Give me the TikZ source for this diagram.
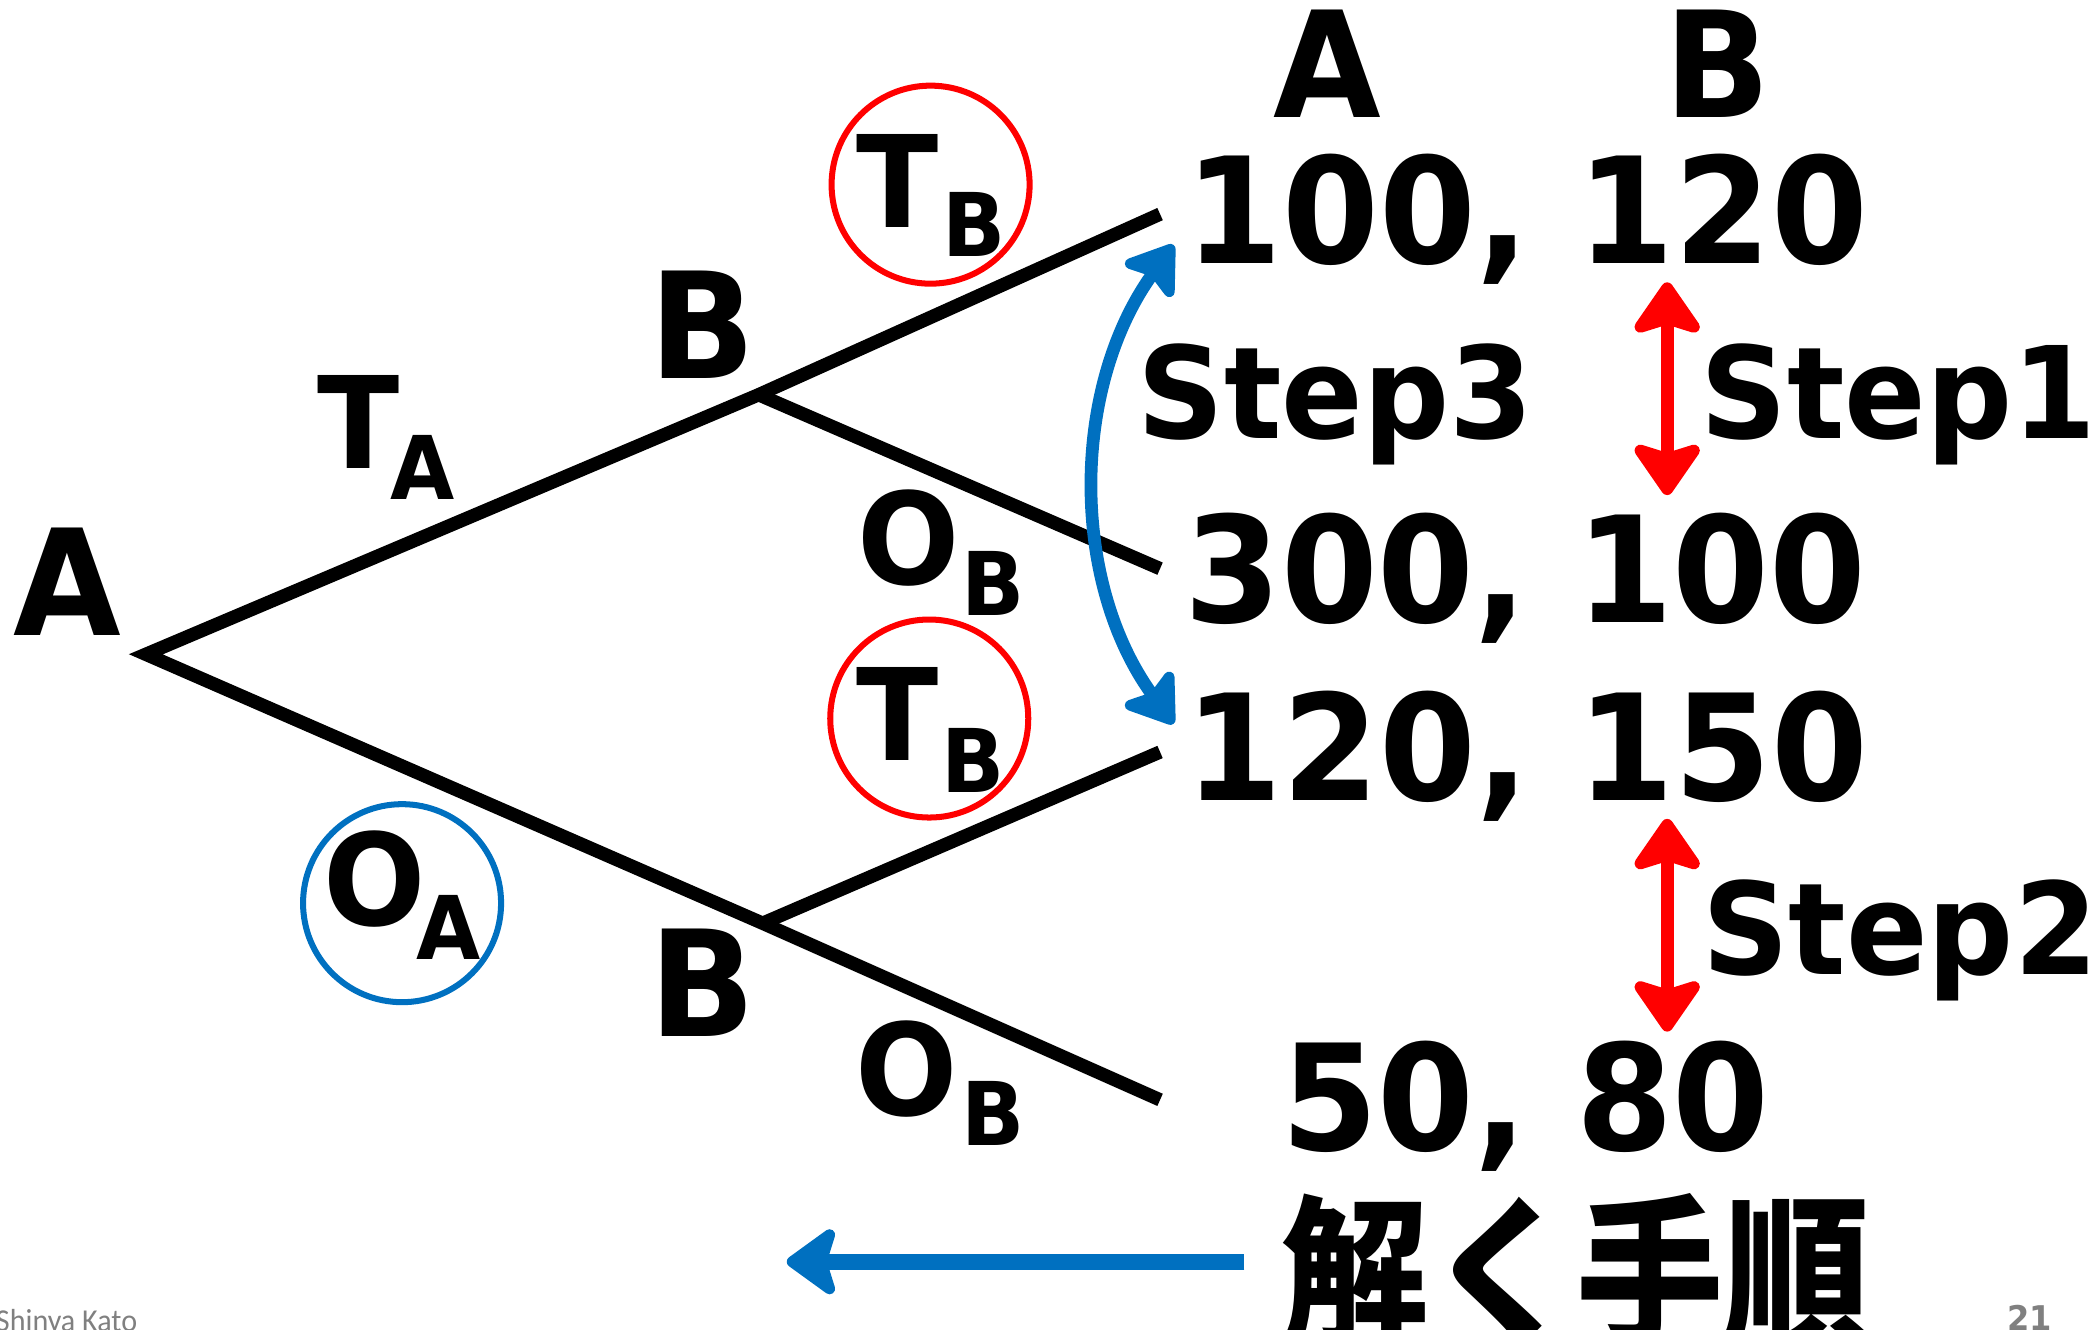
\documentclass[tikz,border=0pt]{standalone}
\usepackage{fontspec}
\setmainfont{DejaVu Sans}
\newfontfamily\cjk{Noto Sans CJK JP}
\newfontfamily\carl{Carlito}
\usetikzlibrary{arrows.meta}
\definecolor{myred}{RGB}{255,0,0}
\definecolor{myblue}{RGB}{0,112,192}
\definecolor{mygray}{RGB}{128,128,128}
\newcommand{\stretchtxt}[1]{\scalebox{1}[1.06]{#1}}
\newcommand{\stretchcjk}[1]{\scalebox{1}[1.1]{#1}}
\begin{document}
\begin{tikzpicture}[x=1pt,y=-1pt,
  every node/.style={inner sep=0pt, outer sep=0pt},
  big/.style={font=\fontsize{104}{104}\selectfont\bfseries, anchor=base},
  mid/.style={font=\fontsize{90}{90}\selectfont\bfseries, anchor=base},
  sublbl/.style={font=\fontsize{62}{62}\selectfont\bfseries, anchor=base},
  branch/.style={line width=10pt, line join=miter},
  ring/.style={circle, draw, line width=4.5pt, minimum size=148pt},
  redtip/.tip={Stealth[length=44pt,width=60pt,inset=9pt,round]},
  bluetip/.tip={Stealth[length=40pt,width=54pt,inset=8pt,round]},
  redarr/.style={draw=myred, line width=9.5pt, redtip-redtip},
  bluecurve/.style={draw=myblue, line width=9.5pt, bluetip-bluetip},
  bluearr/.style={draw=myblue, line width=12pt,
    -{Stealth[length=42pt,width=60pt,inset=9pt,round]}},
]
\useasboundingbox (0,0) rectangle (1568,994);

% tree
\coordinate (root) at (109,489);
\coordinate (b1) at (567,295);
\coordinate (b2) at (570,690);
\coordinate (e1) at (867,160);
\coordinate (e2) at (867,425);
\coordinate (e3) at (867,562);
\coordinate (e4) at (867,822);
\draw[branch] (e1) -- (b1) -- (root) -- (b2) -- (e4);
\draw[branch] (b1) -- (e2);
\draw[branch] (b2) -- (e3);

% circles
\node[ring, draw=myred] (rc1) at (695.5,138) {};
\node[ring, draw=myred] (rc2) at (694.5,537) {};
\node[ring, draw=myblue] (bc) at (300.5,675) {};

% player labels
\node[big] (lA) at (50,475) {\stretchtxt{A}};
\node[big] (lB1) at (525,283) {\stretchtxt{B}};
\node[big] (lB2) at (525,775) {\stretchtxt{B}};

% action labels
\node[mid] (ta) at (268,350) {\stretchtxt{T}};
\node[sublbl] (tas) at (316,373) {\stretchtxt{A}};
\node[mid] (tb1) at (671,170) {\stretchtxt{T}};
\node[sublbl] (tb1s) at (728,192) {\stretchtxt{B}};
\node[mid] (tb2) at (671,568) {\stretchtxt{T}};
\node[sublbl] (tb2s) at (727,592) {\stretchtxt{B}};
\node[mid] (ob1) at (679,437) {\stretchtxt{O}};
\node[sublbl] (ob1s) at (742,460) {\stretchtxt{B}};
\node[mid] (ob2) at (678,834) {\stretchtxt{O}};
\node[sublbl] (ob2s) at (742,856) {\stretchtxt{B}};
\node[mid] (oa) at (280,692) {\stretchtxt{O}};
\node[sublbl] (oas) at (335,717) {\stretchtxt{A}};

% payoffs
\node[big] (hA) at (992,88) {\stretchtxt{A}};
\node[big] (hB) at (1284,88) {\stretchtxt{B}};
\node[big] (p1) at (1141,197) {\stretchtxt{100, 120}};
\node[big] (p2) at (1140,465) {\stretchtxt{300, 100}};
\node[big] (p3) at (1141,598) {\stretchtxt{120, 150}};
\node[big] (p4) at (1140,860) {\stretchtxt{50, 80}};

% steps
\node[mid] (s3) at (998,328) {\stretchtxt{Step3}};
\node[mid] (s1) at (1419,328) {\stretchtxt{Step1}};
\node[mid] (s2) at (1420,728) {\stretchtxt{Step2}};

\coordinate (r1a) at (1246,211);
\coordinate (r1b) at (1246,370);
\coordinate (r2a) at (1246,612);
\coordinate (r2b) at (1246,771);
\draw[redarr] (r1a) -- (r1b);
\draw[redarr] (r2a) -- (r2b);

\coordinate (c1) at (877,183);
\coordinate (c2) at (877,541);
\draw[bluecurve] (c1) .. controls (800,290) and (800,435) .. (c2);

% bottom
\node[font=\cjk\fontsize{110}{110}\selectfont\bfseries, anchor=base] (jp) at (1178,996) {\stretchcjk{解く手順}};
\coordinate (l1) at (930,943);
\coordinate (l2) at (588,943);
\draw[bluearr] (l1) -- (l2);

\node[font=\carl\fontsize{22.5}{22.5}\selectfont, text=mygray, anchor=base west] (author) at (-3,995) {\stretchtxt{Shinya Kato}};
\node[font=\fontsize{24}{24}\selectfont\bfseries, text=mygray, anchor=base] (pg) at (1517,994) {\stretchtxt{21}};
\end{tikzpicture}
\end{document}
